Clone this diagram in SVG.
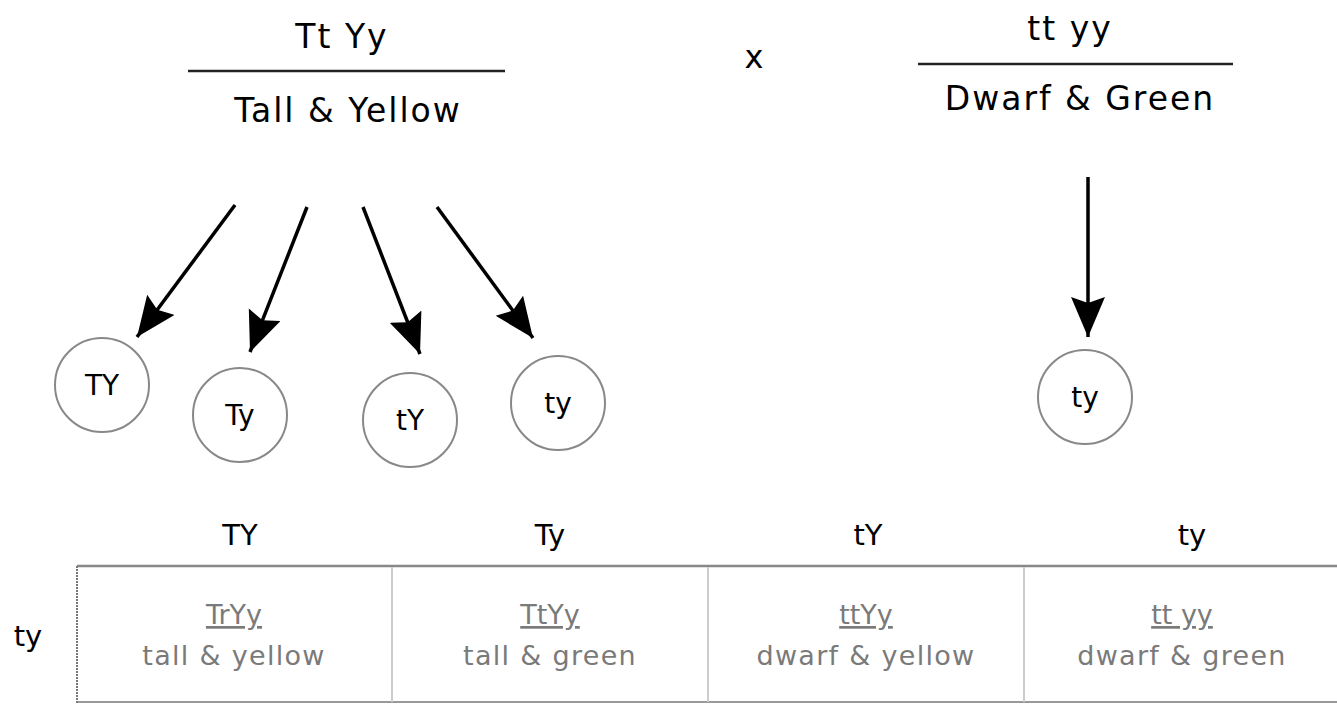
<svg xmlns="http://www.w3.org/2000/svg" width="1337" height="704" viewBox="0 0 1337 704">
<style>
  .big{font-family:"DejaVu Sans",Verdana,sans-serif;font-size:33px;fill:#000;text-anchor:middle;letter-spacing:2px}
  .hdr{font-family:"DejaVu Sans",Verdana,sans-serif;font-size:29px;fill:#000;text-anchor:middle}
  .gam{font-family:"DejaVu Sans",Verdana,sans-serif;font-size:28px;fill:#000;text-anchor:middle}
  .geno{font-family:"DejaVu Sans",Verdana,sans-serif;font-size:27px;fill:#7a7a7a;text-anchor:middle;text-decoration:underline}
  .pheno{font-family:"DejaVu Sans",Verdana,sans-serif;font-size:27px;fill:#7a7a7a;text-anchor:middle;letter-spacing:1.3px}
  .bar{stroke:#222;stroke-width:2.5}
  .cell{fill:none;stroke:#888;stroke-width:2}
  .arrow{stroke:#000;stroke-width:3.5;fill:none;marker-end:url(#ah)}
  .div{stroke:#ccc;stroke-width:2}
</style>
<defs>
  <marker id="ah" markerUnits="userSpaceOnUse" markerWidth="44" markerHeight="36" refX="40" refY="17" orient="auto">
    <path d="M0,0 L40,17 L0,34 L6,17 z" fill="#000"/>
  </marker>
</defs>
<rect width="1337" height="704" fill="#fff"/>

<g id="parent1">
  <text class="big" x="342" y="48">Tt Yy</text>
  <line class="bar" x1="188" y1="71" x2="505" y2="71"/>
  <text class="big" x="348" y="122">Tall &amp; Yellow</text>
</g>
<g id="cross">
  <text class="big" x="754" y="68" style="font-size:32px;letter-spacing:0">x</text>
</g>
<g id="parent2">
  <text class="big" x="1070" y="40">tt yy</text>
  <line class="bar" x1="918" y1="64" x2="1233" y2="64"/>
  <text class="big" x="1080" y="110">Dwarf &amp; Green</text>
</g>

<g id="gamete-TY">
  <circle class="cell" cx="102" cy="385" r="47"/>
  <text class="gam" x="102" y="395">TY</text>
</g>
<g id="gamete-Ty">
  <circle class="cell" cx="240" cy="415" r="47"/>
  <text class="gam" x="240" y="425">Ty</text>
</g>
<g id="gamete-tY">
  <circle class="cell" cx="410" cy="420" r="47"/>
  <text class="gam" x="410" y="430">tY</text>
</g>
<g id="gamete-ty">
  <circle class="cell" cx="558" cy="403" r="47"/>
  <text class="gam" x="558" y="413">ty</text>
</g>
<g id="gamete-ty2">
  <circle class="cell" cx="1085" cy="397" r="47"/>
  <text class="gam" x="1085" y="407">ty</text>
</g>

<g id="connectors">
  <line class="arrow" x1="235" y1="205" x2="137" y2="337"/>
  <line class="arrow" x1="307" y1="207" x2="250" y2="352"/>
  <line class="arrow" x1="363" y1="207" x2="420" y2="354"/>
  <line class="arrow" x1="437" y1="207" x2="533" y2="338"/>
  <line class="arrow" x1="1088" y1="177" x2="1088" y2="337"/>
</g>

<g id="punnett">
  <text class="hdr" x="240" y="545">TY</text>
  <text class="hdr" x="550" y="545">Ty</text>
  <text class="hdr" x="868" y="545">tY</text>
  <text class="hdr" x="1192" y="545">ty</text>
  <text class="hdr" x="28" y="646">ty</text>
  <line x1="77" y1="566" x2="1337" y2="566" stroke="#888" stroke-width="2.5"/>
  <line x1="77" y1="702" x2="1337" y2="702" stroke="#999" stroke-width="2"/>
  <line x1="77" y1="566" x2="77" y2="703" stroke="#777" stroke-width="2" stroke-dasharray="2 1"/>
  <line class="div" x1="392" y1="567" x2="392" y2="702"/>
  <line class="div" x1="708" y1="567" x2="708" y2="702"/>
  <line class="div" x1="1024" y1="567" x2="1024" y2="702"/>
  <g id="cell-1">
    <text class="geno" x="234" y="624">TrYy</text>
    <text class="pheno" x="234" y="665">tall &amp; yellow</text>
  </g>
  <g id="cell-2">
    <text class="geno" x="550" y="624">TtYy</text>
    <text class="pheno" x="550" y="665">tall &amp; green</text>
  </g>
  <g id="cell-3">
    <text class="geno" x="866" y="624">ttYy</text>
    <text class="pheno" x="866" y="665">dwarf &amp; yellow</text>
  </g>
  <g id="cell-4">
    <text class="geno" x="1182" y="624">tt yy</text>
    <text class="pheno" x="1182" y="665">dwarf &amp; green</text>
  </g>
</g>
</svg>
